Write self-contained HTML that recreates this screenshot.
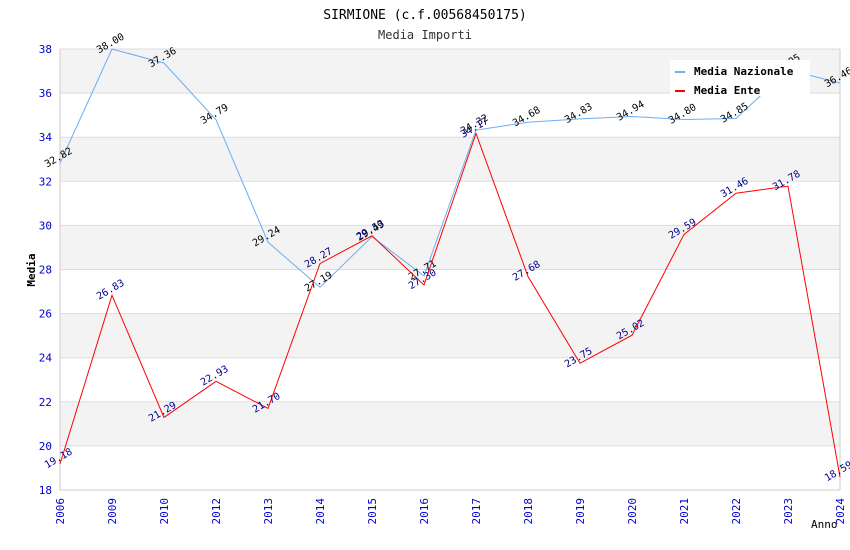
<!DOCTYPE html>
<html><head><meta charset="utf-8"><style>body{margin:0;background:#fff}svg{display:block;font-family:"DejaVu Sans Mono","Liberation Mono",monospace}</style></head>
<body>
<svg id="c" width="850" height="550"></svg>
<script>
const categories=["2006","2009","2010","2012","2013","2014","2015","2016","2017","2018","2019","2020","2021","2022","2023","2024"];
const nazionale=[32.82,38.00,37.36,34.79,29.24,27.19,29.49,27.71,34.32,34.68,34.83,34.94,34.80,34.85,37.05,36.46];
const ente=[19.18,26.83,21.29,22.93,21.70,28.27,29.53,27.30,34.17,27.68,23.75,25.02,29.59,31.46,31.78,18.59];
const yTicks=[18,20,22,24,26,28,30,32,34,36,38];
const NS="http://www.w3.org/2000/svg",svg=document.getElementById('c');
const L=60,R=840,T=49,B=490,ymin=18,ymax=38;
const x=i=>L+i*(R-L)/(categories.length-1);
const y=v=>B-(v-ymin)/(ymax-ymin)*(B-T);
function mk(t,a,p){const e=document.createElementNS(NS,t);for(const k in a)e.setAttribute(k,a[k]);(p||svg).appendChild(e);return e;}
for(let i=0;i<yTicks.length-1;i++){
 const b=mk('rect',{x:L,y:y(yTicks[i+1]),width:R-L,height:y(yTicks[i])-y(yTicks[i+1]),fill:(i%2==1)?'#f3f3f3':'#fff'});
 
 
}
yTicks.forEach(v=>{
 mk('line',{x1:L,x2:R,y1:y(v),y2:y(v),stroke:'#ddd','stroke-width':1});
 const t=mk('text',{x:L-8,y:y(v)+4,'text-anchor':'end','font-size':11,fill:'#00c'});t.textContent=v;
 
 
});
mk('line',{x1:L,x2:L,y1:T,y2:B,stroke:'#ccc'});mk('line',{x1:R,x2:R,y1:T,y2:B,stroke:'#ccc'});
mk('line',{x1:L,x2:R,y1:B,y2:B,stroke:'#ccc'});
categories.forEach((c,i)=>{
 const t=mk('text',{x:x(i)+4,y:B+8,'text-anchor':'end','font-size':11,fill:'#00c',transform:`rotate(-90 ${x(i)+4} ${B+8})`});t.textContent=c;
 
 
});
function series(d,col,lab,name){
 const p=mk('polyline',{points:d.map((v,i)=>x(i)+','+y(v)).join(' '),fill:'none',stroke:col,'stroke-width':1});
 
 
 d.forEach((v,i)=>{const px=x(i),py=y(v)-3;
  const t=mk('text',{x:px,y:py,'text-anchor':'middle','font-size':10,fill:lab,transform:`rotate(-30 ${px} ${py})`});t.textContent=v.toFixed(2);
  
  });
}
series(nazionale,'#6aaef0','#000','series-media-nazionale');
series(ente,'#f00','#008','series-media-ente');
const lg=mk('g',{});


mk('rect',{x:670,y:60,width:140,height:36,fill:'#fff'},lg);
mk('rect',{x:675,y:71,width:10,height:2,fill:'#6aaef0'},lg);
mk('rect',{x:675,y:90,width:10,height:2,fill:'#f00'},lg);
const l1=mk('text',{x:694,y:75,'font-size':11,'font-weight':'bold'},lg);l1.textContent='Media Nazionale';
const l2=mk('text',{x:694,y:94,'font-size':11,'font-weight':'bold'},lg);l2.textContent='Media Ente';
const tt=mk('text',{x:425,y:19,'text-anchor':'middle','font-size':13,fill:'#000'});tt.textContent='SIRMIONE (c.f.00568450175)';

const st=mk('text',{x:425,y:39,'text-anchor':'middle','font-size':12,fill:'#333'});st.textContent='Media Importi';

const yt=mk('text',{x:35,y:270,'text-anchor':'middle','font-size':11,'font-weight':'bold',transform:'rotate(-90 35 270)'});yt.textContent='Media';

const xt=mk('text',{x:811,y:528,'font-size':11});xt.textContent='Anno';

</script>
</body></html>
